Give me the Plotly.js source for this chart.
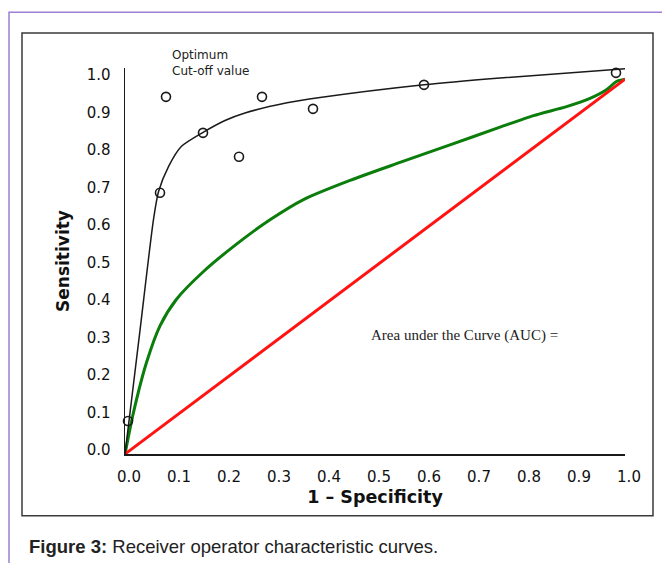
<!DOCTYPE html>
<html>
<head>
<meta charset="utf-8">
<script src="https://cdn.plot.ly/plotly-3.0.1.min.js"></script>
<style>
  html, body { margin: 0; padding: 0; background: #ffffff; }
  #chart { width: 662px; height: 563px; }
</style>
</head>
<body>
<div id="chart"></div>
<script>
// Fitted ROC curve (black)
var fitX = [0, 0.03, 0.057, 0.067, 0.087, 0.113, 0.157, 0.2, 0.24, 0.324, 0.39, 0.598, 0.75, 1.0];
var fitY = [0, 0.33, 0.626, 0.70, 0.767, 0.821, 0.859, 0.89, 0.91, 0.937, 0.951, 0.985, 1.003, 1.028];

// Observed cut-off points (open circles)
var ptX = [0.006, 0.07, 0.082, 0.156, 0.228, 0.274, 0.376, 0.598, 0.982];
var ptY = [0.088, 0.697, 0.953, 0.857, 0.793, 0.953, 0.921, 0.985, 1.017];

// Green ROC curve
var greenX = [0, 0.017, 0.043, 0.07, 0.103, 0.157, 0.223, 0.29, 0.357, 0.45, 0.55, 0.65, 0.75, 0.817, 0.883, 0.93, 0.963, 0.983, 1.0];
var greenY = [0, 0.111, 0.244, 0.342, 0.413, 0.487, 0.56, 0.625, 0.679, 0.73, 0.778, 0.825, 0.872, 0.903, 0.927, 0.949, 0.972, 0.994, 1.0];

// Reference (chance) line
var redX = [0, 1];
var redY = [0, 1];

// Tick labels
var tickVals = [0, 0.1, 0.2, 0.3, 0.4, 0.5, 0.6, 0.7, 0.8, 0.9, 1.0];
var tickText = ['0.0', '0.1', '0.2', '0.3', '0.4', '0.5', '0.6', '0.7', '0.8', '0.9', '1.0'];

var data = [
  { x: greenX, y: greenY, mode: 'lines', line: { color: '#0b7d0b', width: 3, shape: 'spline', smoothing: 0.7 }, hoverinfo: 'skip', cliponaxis: false },
  { x: redX, y: redY, mode: 'lines', line: { color: '#ff1414', width: 3 }, hoverinfo: 'skip', cliponaxis: false },
  { x: fitX, y: fitY, mode: 'lines', line: { color: '#1a1a1a', width: 1.5, shape: 'spline', smoothing: 0.7 }, hoverinfo: 'skip', cliponaxis: false },
  { x: ptX, y: ptY, mode: 'markers', marker: { symbol: 'circle-open', size: 9, color: '#1a1a1a', line: { width: 1.6, color: '#1a1a1a' } }, hoverinfo: 'skip', cliponaxis: false }
];

var tickFont = { family: 'DejaVu Sans', size: 15, color: '#111' };

var layout = {
  width: 662, height: 563,
  margin: { l: 125, r: 37, t: 68, b: 109, pad: 0 },
  paper_bgcolor: '#ffffff', plot_bgcolor: 'rgba(0,0,0,0)',
  showlegend: false,
  xaxis: {
    range: [0, 1], showgrid: false, zeroline: false,
    showline: true, linecolor: '#1a1a1a', linewidth: 1.5,
    ticks: '', tickvals: tickVals, ticktext: tickText,
    tickfont: tickFont, ticklabelstandoff: 8, ticklabelshift: 4,
    title: { text: '<b>1 – Specificity</b>', font: { family: 'DejaVu Sans', size: 17.5, color: '#111' }, standoff: 6 },
    automargin: false, fixedrange: true
  },
  yaxis: {
    range: [0, 1.03], showgrid: false, zeroline: false,
    showline: true, linecolor: '#1a1a1a', linewidth: 1.5,
    ticks: '', tickvals: tickVals, ticktext: tickText,
    tickfont: tickFont, ticklabelstandoff: 10, ticklabelshift: -4,
    title: { text: '<b>Sensitivity</b>', font: { family: 'DejaVu Sans', size: 17, color: '#111' }, standoff: 12 },
    automargin: false, fixedrange: true
  },
  shapes: [
    { type: 'rect', xref: 'paper', yref: 'paper', x0: -0.232, x1: 1.09, y0: -0.30, y1: 1.1447,
      line: { color: '#9d7fd3', width: 1.5 }, fillcolor: 'rgba(0,0,0,0)', layer: 'below' },
    { type: 'rect', xref: 'paper', yref: 'paper', x0: -0.206, x1: 1.056, y0: -0.1602, y1: 1.0904,
      line: { color: '#3a3a3a', width: 1.5 }, fillcolor: 'rgba(0,0,0,0)', layer: 'below' }
  ],
  annotations: [
    { xref: 'paper', yref: 'paper', x: 0.09, y: 1.013, xanchor: 'left', yanchor: 'middle', align: 'left',
      text: 'Optimum<br>Cut-off value', showarrow: false,
      font: { family: 'DejaVu Sans', size: 12, color: '#222' } },
    { xref: 'x', yref: 'y', x: 0.488, y: 0.317, xanchor: 'left', yanchor: 'middle',
      text: 'Area under the Curve (AUC) =', showarrow: false,
      font: { family: 'Liberation Serif', size: 15, color: '#222' } },
    { xref: 'paper', yref: 'paper', x: -0.196, y: -0.2403, xanchor: 'left', yanchor: 'middle',
      text: '<b>Figure 3:</b> Receiver operator characteristic curves.', showarrow: false,
      font: { family: 'Liberation Sans', size: 18.5, color: '#222' } }
  ]
};

Plotly.newPlot('chart', data, layout, { staticPlot: true, displayModeBar: false });
</script>
</body>
</html>
